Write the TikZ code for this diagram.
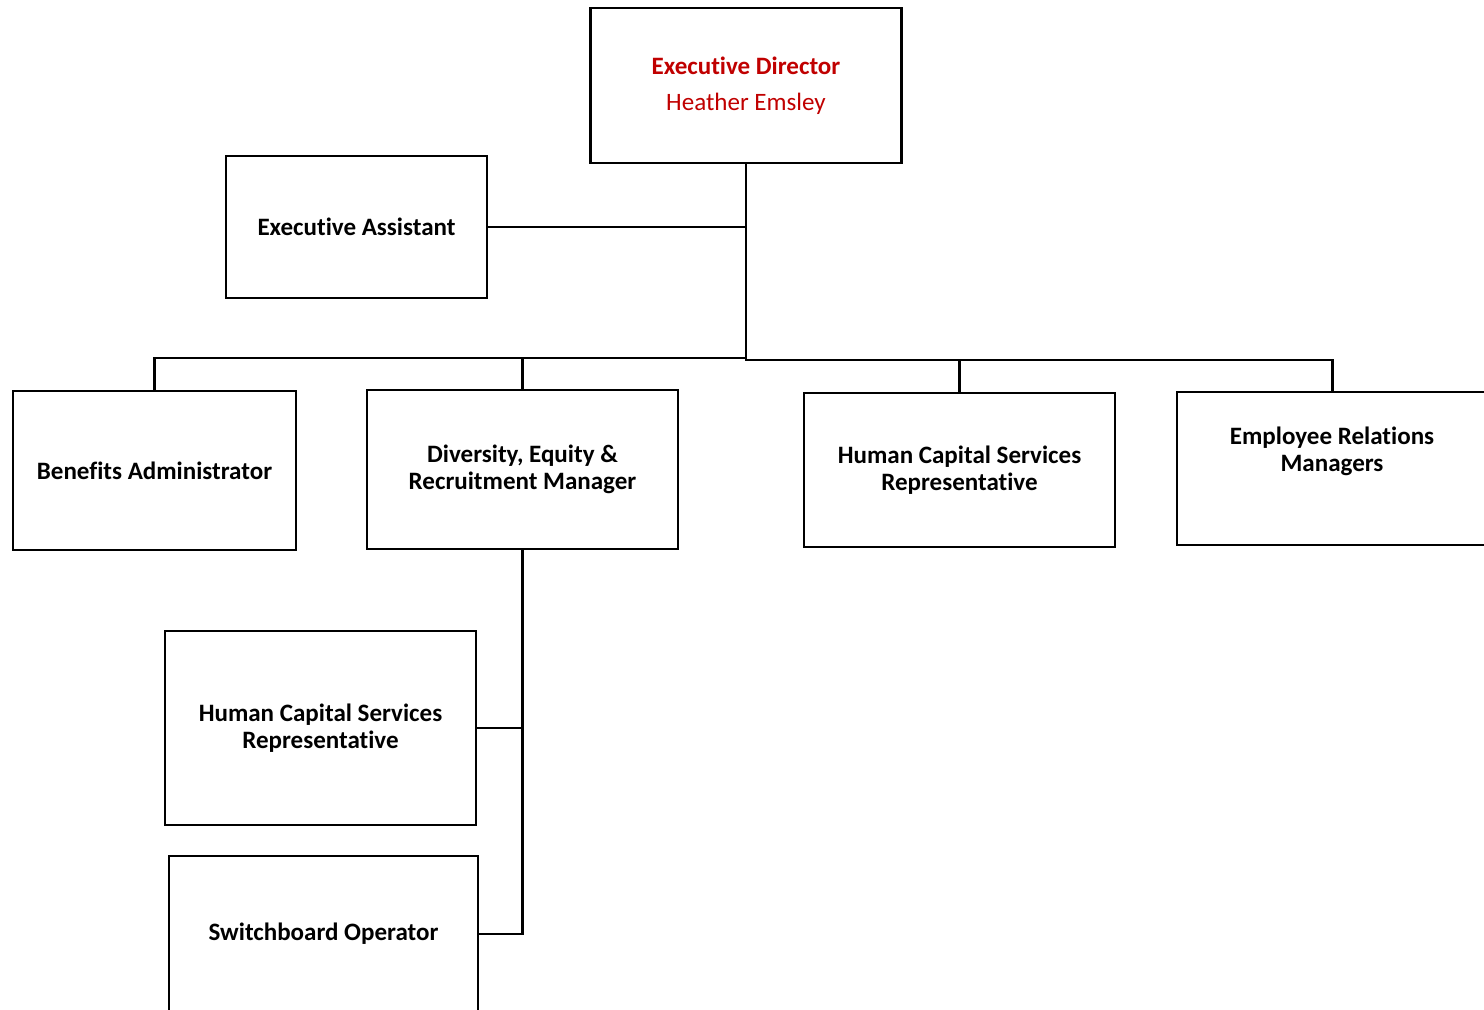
\documentclass[tikz,border=0pt]{standalone}
\usepackage{fontspec}
\setmainfont{Carlito}[Ligatures=NoCommon]
\usetikzlibrary{positioning}

\definecolor{dirred}{HTML}{C00000}

\tikzset{
    box/.style={draw, line width=1.6pt, rectangle, align=center, font=\bfseries\fontsize{17.8}{19.2}\selectfont},
    link/.style={line width=1.6pt}
}

\begin{document}
\begin{tikzpicture}[x=0.025cm, y=-0.025cm]
    \useasboundingbox (0,0) rectangle (1484,1010);

    % Top
    \node[box, minimum width=7.775cm, minimum height=3.875cm] (dir) at (746,85.5) {};
    \node[dirred, font=\bfseries\fontsize{17.8}{19.2}\selectfont] (dirtitle) at (746,66) {Executive Director};
    \node[dirred, font=\fontsize{17.8}{19.2}\selectfont] (dirname) at (746,104) {Heather Emsley};
    \node[box, minimum width=6.525cm, minimum height=3.55cm] (assist) at (356.5,227) {Executive Assistant};

    % Second row
    \node[box, minimum width=7.075cm, minimum height=3.975cm] (benefits) at (154.5,470.5) {Benefits Administrator};
    \node[box, minimum width=7.775cm, minimum height=3.975cm] (dei) at (522.5,469.5) {Diversity, Equity \&\\Recruitment Manager};
    \node[box, minimum width=7.775cm, minimum height=3.85cm] (hcsrA) at (959.5,470) {Human Capital Services\\Representative};
    \node[box, minimum width=7.775cm, minimum height=3.825cm] (erm) at (1332.5,468.5) {};
    \node[font=\bfseries\fontsize{17.8}{19.2}\selectfont, align=center] (ermtext) at (1332,451) {Employee Relations\\Managers};

    % Under DEI
    \node[box, minimum width=7.775cm, minimum height=4.85cm] (hcsrB) at (320.5,728) {Human Capital Services\\Representative};
    \node[box, minimum width=7.725cm, minimum height=3.9cm] (switch) at (323.5,934) {Switchboard Operator};

    % Connectors
    \coordinate (hub) at (dir.south |- 0,358);
    \draw[link] (dir.south) -- (hub);
    \draw[link] (assist.east) -- (assist.east -| dir.south);
    \draw[link] (hub) -- (hub -| benefits.north) -- (benefits.north);
    \draw[link] (hub -| dei.north) -- (dei.north);
    \draw[link] (hub) -- ++(0,2) -| (erm.north);
    \draw[link] (hcsrA.north) -- ++(0,-33);
    \draw[link] (dei.south) -- (dei.south |- switch.east) -- (switch.east);
    \draw[link] (hcsrB.east) -- (hcsrB.east -| dei.south);
\end{tikzpicture}
\end{document}
